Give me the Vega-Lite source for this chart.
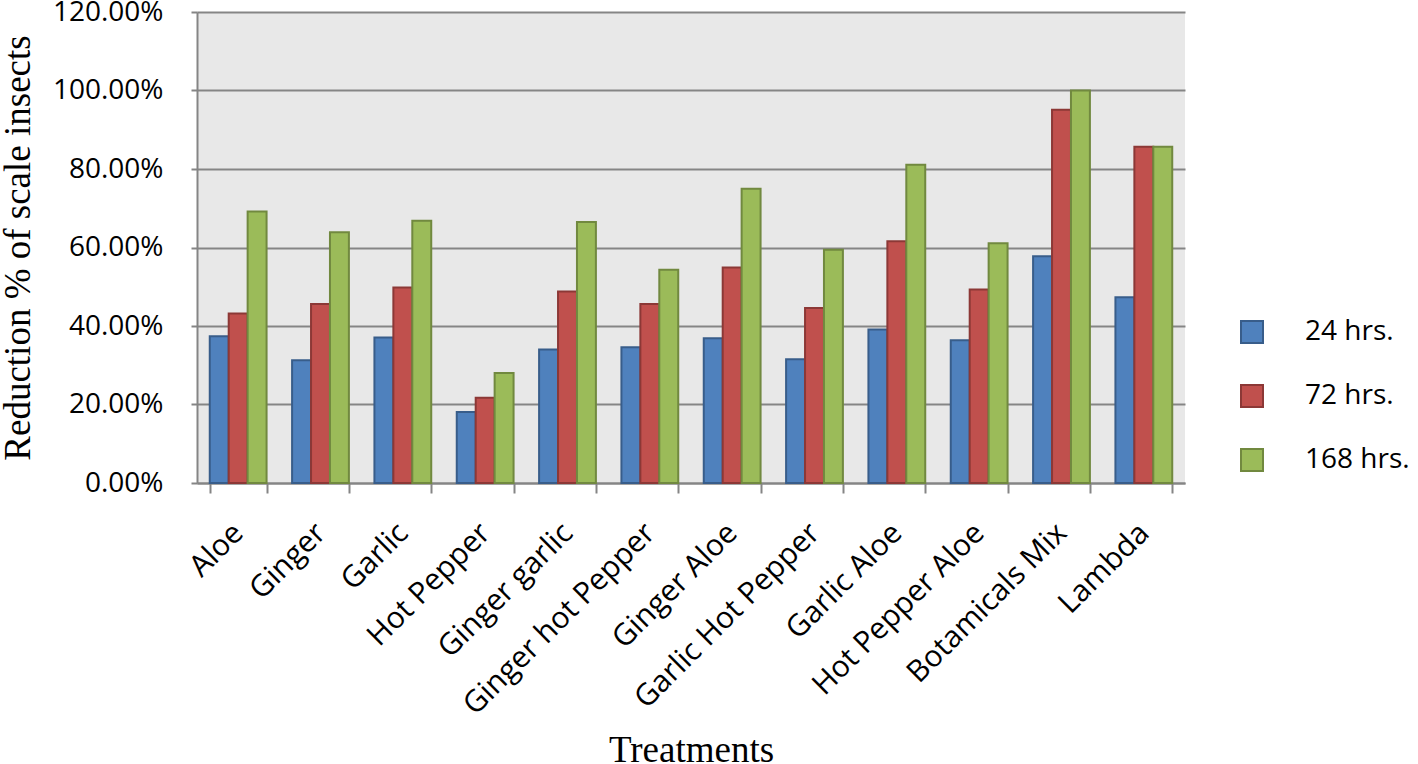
{
  "$schema": "https://vega.github.io/schema/vega-lite/v6.json",
  "width": 988,
  "height": 471,
  "autosize": {"type": "none"},
  "padding": {"left": 197, "top": 12, "right": 233, "bottom": 281},
  "background": "white",
  "config": {
    "view": {"fill": "#E8E8E8", "stroke": null},
    "font": "Open Sans"
  },
  "data": {
    "values": [
      {"treatment": "Aloe", "time": " 24 hrs.", "value": 0.374},
      {"treatment": "Aloe", "time": "72 hrs.", "value": 0.432},
      {"treatment": "Aloe", "time": "168 hrs.", "value": 0.692},
      {"treatment": "Ginger", "time": " 24 hrs.", "value": 0.313},
      {"treatment": "Ginger", "time": "72 hrs.", "value": 0.456},
      {"treatment": "Ginger", "time": "168 hrs.", "value": 0.639},
      {"treatment": "Garlic", "time": " 24 hrs.", "value": 0.371},
      {"treatment": "Garlic", "time": "72 hrs.", "value": 0.498},
      {"treatment": "Garlic", "time": "168 hrs.", "value": 0.668},
      {"treatment": "Hot Pepper", "time": " 24 hrs.", "value": 0.181},
      {"treatment": "Hot Pepper", "time": "72 hrs.", "value": 0.217},
      {"treatment": "Hot Pepper", "time": "168 hrs.", "value": 0.280},
      {"treatment": "Ginger garlic", "time": " 24 hrs.", "value": 0.340},
      {"treatment": "Ginger garlic", "time": "72 hrs.", "value": 0.488},
      {"treatment": "Ginger garlic", "time": "168 hrs.", "value": 0.665},
      {"treatment": "Ginger hot Pepper", "time": " 24 hrs.", "value": 0.346},
      {"treatment": "Ginger hot Pepper", "time": "72 hrs.", "value": 0.456},
      {"treatment": "Ginger hot Pepper", "time": "168 hrs.", "value": 0.543},
      {"treatment": "Ginger Aloe", "time": " 24 hrs.", "value": 0.369},
      {"treatment": "Ginger Aloe", "time": "72 hrs.", "value": 0.549},
      {"treatment": "Ginger Aloe", "time": "168 hrs.", "value": 0.750},
      {"treatment": "Garlic Hot Pepper", "time": " 24 hrs.", "value": 0.315},
      {"treatment": "Garlic Hot Pepper", "time": "72 hrs.", "value": 0.446},
      {"treatment": "Garlic Hot Pepper", "time": "168 hrs.", "value": 0.594},
      {"treatment": "Garlic Aloe", "time": " 24 hrs.", "value": 0.391},
      {"treatment": "Garlic Aloe", "time": "72 hrs.", "value": 0.616},
      {"treatment": "Garlic Aloe", "time": "168 hrs.", "value": 0.811},
      {"treatment": "Hot Pepper Aloe", "time": " 24 hrs.", "value": 0.364},
      {"treatment": "Hot Pepper Aloe", "time": "72 hrs.", "value": 0.493},
      {"treatment": "Hot Pepper Aloe", "time": "168 hrs.", "value": 0.611},
      {"treatment": "Botamicals Mix", "time": " 24 hrs.", "value": 0.578},
      {"treatment": "Botamicals Mix", "time": "72 hrs.", "value": 0.951},
      {"treatment": "Botamicals Mix", "time": "168 hrs.", "value": 1.0},
      {"treatment": "Lambda", "time": " 24 hrs.", "value": 0.473},
      {"treatment": "Lambda", "time": "72 hrs.", "value": 0.857},
      {"treatment": "Lambda", "time": "168 hrs.", "value": 0.857}
    ]
  },
  "mark": {"type": "bar", "strokeWidth": 2, "strokeOpacity": 1},
  "encoding": {
    "x": {
      "field": "treatment",
      "type": "nominal",
      "sort": null,
      "scale": {"paddingInner": 0.31, "paddingOuter": 0.155},
      "axis": {
        "title": "Treatments",
        "titleFont": "Liberation Serif",
        "titleFontSize": 37,
        "titleFontWeight": "normal",
        "titleColor": "black",
        "titleBaseline": "alphabetic",
        "titleY": 278,
        "labelAngle": -45,
        "labelAlign": "right",
        "labelBaseline": "middle",
        "labelFontSize": 30,
        "labelColor": "black",
        "labelPadding": 35,
        "labelLimit": 0,
        "tickBand": "extent",
        "tickSize": 10,
        "tickWidth": 2,
        "tickColor": "#858585",
        "domainColor": "#858585",
        "domainWidth": 2,
        "grid": false
      }
    },
    "xOffset": {
      "field": "time",
      "type": "nominal",
      "sort": [" 24 hrs.", "72 hrs.", "168 hrs."],
      "scale": {"paddingInner": 0, "paddingOuter": 0}
    },
    "y": {
      "field": "value",
      "type": "quantitative",
      "scale": {"domain": [0, 1.2], "nice": false},
      "axis": {
        "title": "Reduction % of scale insects",
        "titleFont": "Liberation Serif",
        "titleFontSize": 37,
        "titleFontWeight": "normal",
        "titleColor": "black",
        "titleBaseline": "alphabetic",
        "titleX": -168,
        "format": ".2%",
        "values": [0, 0.2, 0.4, 0.6, 0.8, 1.0, 1.2],
        "labelFontSize": 28,
        "labelColor": "black",
        "labelPadding": 28,
        "tickSize": 6,
        "tickWidth": 2,
        "tickColor": "#858585",
        "domainColor": "#858585",
        "domainWidth": 2,
        "gridColor": "#858585",
        "gridWidth": 2,
        "gridOpacity": 1
      }
    },
    "fill": {
      "field": "time",
      "type": "nominal",
      "scale": {"domain": [" 24 hrs.", "72 hrs.", "168 hrs."], "range": ["#4F81BD", "#C0504D", "#9BBB59"]},
      "legend": {
        "title": null,
        "orient": "none",
        "legendX": 1041,
        "legendY": 306,
        "padding": 0,
        "symbolType": "square",
        "symbolSize": 484,
        "symbolStrokeWidth": 2,
        "symbolOpacity": 1,
        "labelFontSize": 28,
        "labelColor": "black",
        "labelOffset": 39,
        "rowPadding": 34
      }
    },
    "stroke": {
      "field": "time",
      "type": "nominal",
      "scale": {"domain": [" 24 hrs.", "72 hrs.", "168 hrs."], "range": ["#385D8A", "#8C3836", "#71893F"]},
      "legend": {
        "title": null,
        "orient": "none",
        "legendX": 1041,
        "legendY": 306,
        "padding": 0,
        "symbolType": "square",
        "symbolSize": 484,
        "symbolStrokeWidth": 2,
        "symbolOpacity": 1,
        "labelFontSize": 28,
        "labelColor": "black",
        "labelOffset": 39,
        "rowPadding": 34
      }
    }
  }
}
